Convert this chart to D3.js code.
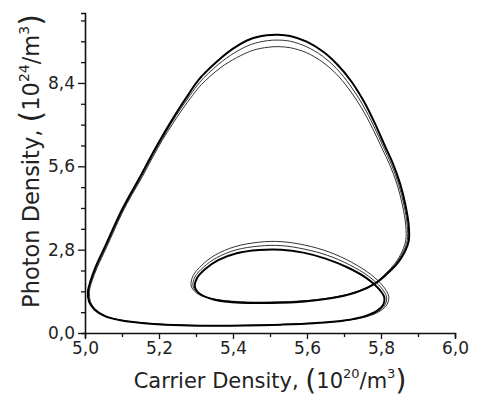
<!DOCTYPE html>
<html>
<head>
<meta charset="utf-8">
<script src="https://cdn.jsdelivr.net/npm/d3@7"></script>
<style>
body { margin: 0; background: #fff; }
text { font-family: "DejaVu Sans", Verdana, sans-serif; fill: #222; }
</style>
</head>
<body>
<div id="chart"></div>
<script>
// phase portrait, carrier density (1e20/m3) vs photon density (1e24/m3)
// main (black) orbit
var traceMain = [
  [5.011,1.05],[5.008,1.40],[5.015,1.75],[5.028,2.20],[5.054,2.90],[5.095,4.02],
  [5.122,4.65],[5.149,5.25],[5.176,5.88],[5.203,6.48],[5.230,7.05],[5.257,7.59],
  [5.282,8.06],[5.306,8.49],[5.356,9.11],[5.401,9.56],[5.446,9.87],[5.491,10.0],
  [5.522,10.02],[5.554,9.98],[5.599,9.79],[5.644,9.45],[5.682,9.02],[5.720,8.45],
  [5.755,7.75],[5.785,7.00],[5.810,6.30],[5.832,5.70],[5.852,5.00],[5.866,4.30],
  [5.875,3.60],[5.875,3.10],[5.864,2.72],[5.843,2.32],[5.815,1.97],[5.784,1.66],
  [5.740,1.40],[5.680,1.20],[5.600,1.07],[5.500,1.01],[5.420,1.02],[5.350,1.12],
  [5.312,1.30],[5.297,1.55],[5.303,1.85],[5.325,2.15],[5.360,2.45],[5.410,2.68],
  [5.470,2.79],[5.530,2.80],[5.590,2.70],[5.650,2.50],[5.710,2.20],[5.760,1.85],
  [5.793,1.50],[5.809,1.20],[5.806,0.95],[5.790,0.75],[5.755,0.56],[5.700,0.42],
  [5.620,0.33],[5.530,0.28],[5.430,0.25],[5.330,0.245],[5.240,0.27],[5.160,0.33],
  [5.100,0.42],[5.055,0.56],[5.026,0.78]
];
// second pass
var traceMid = [
  [5.013,1.05],[5.010,1.40],[5.017,1.75],[5.031,2.20],[5.057,2.90],[5.098,4.02],
  [5.125,4.65],[5.152,5.25],[5.179,5.88],[5.206,6.48],[5.233,7.04],[5.260,7.56],
  [5.286,8.02],[5.310,8.42],[5.360,9.02],[5.405,9.42],[5.450,9.70],[5.493,9.82],
  [5.522,9.84],[5.555,9.80],[5.598,9.62],[5.642,9.30],[5.680,8.88],[5.716,8.33],
  [5.751,7.66],[5.781,6.94],[5.806,6.26],[5.828,5.67],[5.848,4.98],[5.862,4.30],
  [5.871,3.60],[5.871,3.11],[5.860,2.73],[5.840,2.33],[5.813,1.97],[5.783,1.66],
  [5.740,1.41],[5.680,1.21],[5.600,1.08],[5.500,1.025],[5.420,1.035],[5.348,1.135],
  [5.308,1.315],[5.292,1.565],[5.297,1.88],[5.320,2.21],[5.356,2.53],[5.408,2.79],
  [5.470,2.92],[5.530,2.935],[5.592,2.82],[5.655,2.61],[5.715,2.29],[5.766,1.91],
  [5.800,1.53],[5.815,1.21],[5.811,0.95],[5.794,0.745],[5.758,0.555],[5.702,0.42],
  [5.620,0.332],[5.530,0.282],[5.430,0.252],[5.330,0.247],[5.240,0.272],[5.160,0.332],
  [5.100,0.422],[5.056,0.562],[5.028,0.78]
];
// innermost pass on the big loop, outermost on the small loop
var traceInner = [
  [5.015,1.05],[5.012,1.40],[5.019,1.75],[5.033,2.20],[5.059,2.90],[5.100,4.02],
  [5.127,4.65],[5.155,5.25],[5.182,5.88],[5.209,6.48],[5.237,7.03],[5.264,7.53],
  [5.290,7.97],[5.315,8.35],[5.365,8.90],[5.410,9.25],[5.455,9.50],[5.495,9.60],
  [5.522,9.62],[5.556,9.58],[5.598,9.42],[5.640,9.12],[5.678,8.72],[5.713,8.20],
  [5.747,7.57],[5.777,6.88],[5.802,6.22],[5.824,5.64],[5.844,4.97],[5.858,4.29],
  [5.867,3.60],[5.867,3.12],[5.857,2.74],[5.838,2.34],[5.811,1.98],[5.782,1.67],
  [5.740,1.42],[5.680,1.22],[5.600,1.09],[5.500,1.04],[5.420,1.05],[5.345,1.15],
  [5.303,1.33],[5.287,1.58],[5.292,1.92],[5.316,2.28],[5.352,2.62],[5.405,2.90],
  [5.470,3.05],[5.530,3.07],[5.595,2.95],[5.660,2.72],[5.720,2.38],[5.772,1.97],
  [5.806,1.57],[5.821,1.22],[5.816,0.95],[5.798,0.74],[5.762,0.55],[5.705,0.42],
  [5.620,0.335],[5.530,0.285],[5.430,0.255],[5.330,0.25],[5.240,0.275],[5.160,0.335],
  [5.100,0.425],[5.058,0.565],[5.030,0.78]
];

var xTicks = [5.0,5.1,5.2,5.3,5.4,5.5,5.6,5.7,5.8,5.9,6.0];
var xLabels = [5.0,5.2,5.4,5.6,5.8,6.0];
var yTicks = [0,0.7,1.4,2.1,2.8,3.5,4.2,4.9,5.6,6.3,7.0,7.7,8.4,9.1,9.8,10.5];
var yLabels = [0,2.8,5.6,8.4];

var width = 479, height = 396;
var svg = d3.select('#chart').append('svg')
  .attr('width', width)
  .attr('height', height);

var x = d3.scaleLinear().domain([5, 6]).range([85, 455]);
var y = d3.scaleLinear().domain([0, 10.75]).range([333, 13]);

function fmt(d) { return d3.format('.1f')(d).replace('.', ','); }
function isLabel(list, d) {
  return list.some(function(v) { return Math.abs(v - d) < 1e-6; });
}

var line = d3.line()
  .x(function(d) { return x(d[0]); })
  .y(function(d) { return y(d[1]); })
  .curve(d3.curveCatmullRomClosed.alpha(0.5));

svg.append('path').datum(traceInner)
  .attr('d', line).attr('fill', 'none')
  .attr('stroke', '#333').attr('stroke-width', 1);
svg.append('path').datum(traceMid)
  .attr('d', line).attr('fill', 'none')
  .attr('stroke', '#333').attr('stroke-width', 1);
svg.append('path').datum(traceMain)
  .attr('d', line).attr('fill', 'none')
  .attr('stroke', '#000').attr('stroke-width', 2);

// axes
var xAxis = d3.axisBottom(x)
  .tickValues(xTicks)
  .tickSizeOuter(0)
  .tickSize(5)
  .tickFormat(function(d) { return isLabel(xLabels, d) ? fmt(d) : ''; });
var gx = svg.append('g').attr('transform', 'translate(0,333)').call(xAxis);

var yAxis = d3.axisLeft(y)
  .tickValues(yTicks)
  .tickSizeOuter(0)
  .tickSize(4)
  .tickFormat(function(d) { return isLabel(yLabels, d) ? fmt(d) : ''; });
var gy = svg.append('g').attr('transform', 'translate(85,0)').call(yAxis);

[gx, gy].forEach(function(g) {
  g.select('.domain').attr('stroke', '#111').attr('stroke-width', 1.6);
  g.selectAll('.tick line').attr('stroke', '#111').attr('stroke-width', 1.3);
  g.selectAll('.tick text')
    .attr('fill', '#222')
    .style('font-family', '"DejaVu Sans", Verdana, sans-serif')
    .style('font-size', '17px');
});
gx.selectAll('.tick line').attr('y2', function(d) { return isLabel(xLabels, d) ? 6 : 4; });
gx.selectAll('.tick text').attr('y', 9);
gy.selectAll('.tick line').attr('x2', function(d) { return isLabel(yLabels, d) ? -7 : -4; });
gy.selectAll('.tick text').attr('x', -10);

// axis titles
function title(t, main, exp, big, small) {
  t.append('tspan').text(main);
  t.append('tspan').style('font-size', big + 'px').attr('dy', 2).text('(');
  t.append('tspan').attr('dy', -2).text('10');
  t.append('tspan').style('font-size', small + 'px').attr('dy', -10).text(exp);
  t.append('tspan').attr('dy', 10).text('/m');
  t.append('tspan').style('font-size', small + 'px').attr('dy', -10).text('3');
  t.append('tspan').style('font-size', big + 'px').attr('dy', 12).text(')');
}
var xt = svg.append('text')
  .attr('x', 270).attr('y', 388)
  .attr('text-anchor', 'middle')
  .style('font-size', '21px');
title(xt, 'Carrier Density, ', '20', 28, 13);

var yt = svg.append('text')
  .attr('transform', 'translate(38.5,161) rotate(-90)')
  .attr('text-anchor', 'middle')
  .style('font-size', '22.5px');
title(yt, 'Photon Density, ', '24', 30, 14);
</script>
</body>
</html>
